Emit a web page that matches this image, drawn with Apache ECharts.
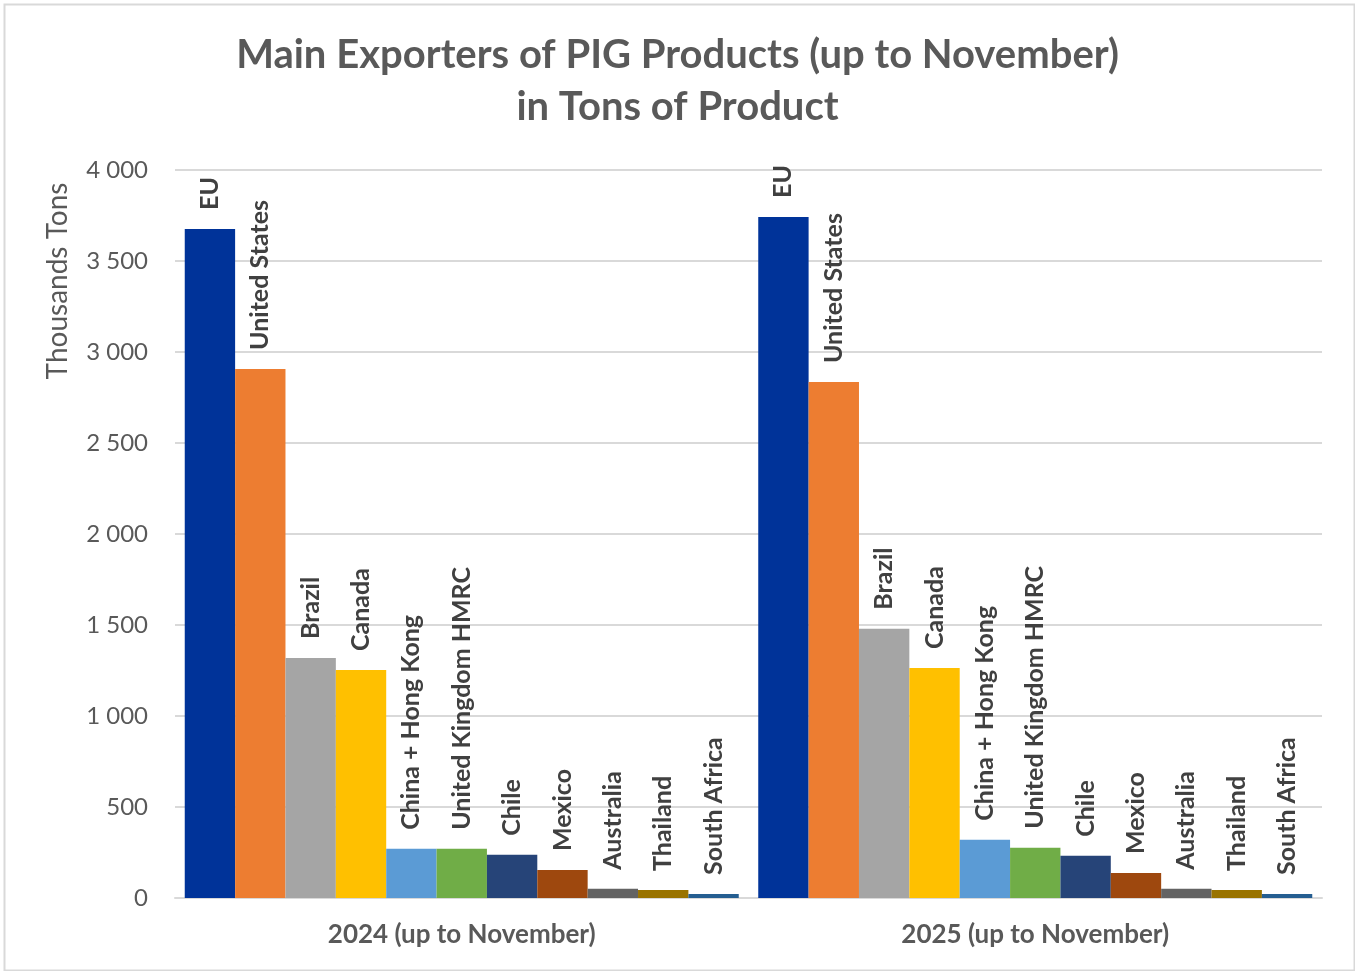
<!DOCTYPE html>
<html lang="en" style="height: 100%">
<head>
    <meta charset="UTF-8">
    <title>Main Exporters of PIG Products</title>
    <script src="https://cdn.jsdelivr.net/npm/echarts@6/dist/echarts.min.js"></script>
</head>
<body style="height: 100%; margin: 0">
<div id="main" style="width: 1355px; height: 971px"></div>
<script>
    // periods on the x axis
    var periods = ['2024 (up to November)', '2025 (up to November)'];
    // exporters, in the order of the bars
    var exporters = ['EU', 'United States', 'Brazil', 'Canada', 'China + Hong Kong',
        'United Kingdom HMRC', 'Chile', 'Mexico', 'Australia', 'Thailand', 'South Africa'];
    // thousand tons, 2024 then 2025
    var eu = [3676, 3742];
    var us = [2907, 2835];
    var brazil = [1319, 1480];
    var canada = [1253, 1264];
    var china = [270, 320];
    var uk = [270, 276];
    var chile = [238, 232];
    var mexico = [154, 137];
    var australia = [51, 51];
    var thailand = [44, 44];
    var southAfrica = [22, 22];
    var yTicks = [0, 500, 1000, 1500, 2000, 2500, 3000, 3500, 4000];

    var values = [eu, us, brazil, canada, china, uk, chile, mexico, australia, thailand, southAfrica];
    var colors = ['#003399', '#ED7D31', '#A5A5A5', '#FFC000', '#5B9BD5', '#70AD47',
        '#264478', '#9E480E', '#636363', '#997300', '#255E91'];

    var series = exporters.map(function (name, i) {
        return {
            name: name,
            type: 'bar',
            data: values[i],
            barGap: '0%',
            barCategoryGap: '3.4%',
            itemStyle: {color: colors[i]},
            label: {
                show: true,
                position: 'top',
                rotate: 90,
                align: 'left',
                verticalAlign: 'middle',
                distance: 19,
                formatter: '{a}',
                color: '#404040',
                fontFamily: 'Lato',
                fontWeight: 'bold',
                fontSize: 25
            }
        };
    });

    var option = {
        animation: false,
        backgroundColor: '#fff',
        color: colors,
        title: {
            text: 'Main Exporters of PIG Products (up to November)\nin Tons of Product',
            left: 'center',
            top: 24,
            textStyle: {
                color: '#595959',
                fontFamily: 'Lato',
                fontWeight: 'bold',
                fontSize: 40,
                lineHeight: 52
            }
        },
        grid: {left: 175, right: 33, top: 170, bottom: 73},
        xAxis: {
            type: 'category',
            data: periods,
            axisLine: {lineStyle: {color: '#D9D9D9', width: 2}},
            axisTick: {show: false},
            axisLabel: {
                color: '#595959',
                fontFamily: 'Lato',
                fontWeight: 'bold',
                fontSize: 26,
                margin: 24
            }
        },
        yAxis: {
            type: 'value',
            min: yTicks[0],
            max: yTicks[yTicks.length - 1],
            interval: 500,
            axisLine: {show: false},
            axisTick: {show: false},
            splitLine: {lineStyle: {color: '#D9D9D9', width: 2}},
            axisLabel: {
                color: '#595959',
                fontFamily: 'Lato',
                fontSize: 24,
                margin: 27,
                formatter: function (v) {
                    return String(v).replace(/\B(?=(\d{3})+(?!\d))/g, ' ');
                }
            }
        },
        graphic: [
            {
                type: 'rect',
                left: 2, top: 2,
                shape: {width: 1350, height: 966},
                style: {fill: 'none', stroke: '#D9D9D9', lineWidth: 2},
                silent: true
            },
            {
                type: 'text',
                x: 58, y: 281,
                rotation: Math.PI / 2,
                style: {
                    text: 'Thousands Tons',
                    fill: '#595959',
                    font: '28px Lato',
                    align: 'center',
                    verticalAlign: 'middle'
                }
            }
        ],
        series: series
    };

    var myChart = echarts.init(document.getElementById('main'));
    myChart.setOption(option);
</script>
</body>
</html>
